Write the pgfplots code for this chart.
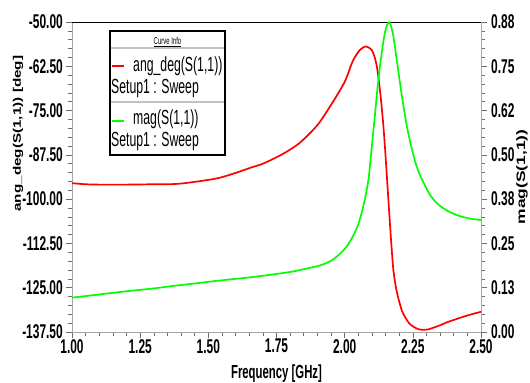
\documentclass[border=0pt]{standalone}
\usepackage{fontspec}
\setmainfont{Liberation Sans}
\newfontfamily\nf[FakeStretch=0.6]{Liberation Sans}
\usepackage{graphicx}
\usepackage{pgfplots}
\pgfplotsset{compat=1.18}
\definecolor{axgray}{RGB}{165,165,165}
\definecolor{tkgray}{RGB}{110,110,110}
\definecolor{sepgray}{RGB}{195,195,195}
\definecolor{myred}{RGB}{255,0,0}
\definecolor{mygreen}{RGB}{0,255,0}
\pgfplotsset{
  common/.style={
    at={(0,0)}, anchor=south west, scale only axis,
    width=409bp, height=310bp, xmin=1, xmax=2.5,
    tick align=outside, major tick length=6bp, minor tick length=4bp,
    tick style={tkgray, line width=0.6pt},
    ticklabel style={font=\nf\bfseries\fontsize{20}{20}\selectfont, inner sep=1bp},
    /pgf/number format/assume math mode=true,
    clip=false,
  }
}
\begin{document}
\begin{tikzpicture}
\useasboundingbox (-72bp,-51bp) rectangle (458bp,332bp);
\begin{axis}[common,
  ymin=-137.5, ymax=-50,
  axis x line*=bottom, axis y line*=left,
  axis line style={axgray, line width=0.8pt, -},
  xtick={1,1.25,...,2.5}, ytick={-137.5,-125,...,-50},
  minor x tick num=4, minor y tick num=4,
  /pgf/number format/fixed, /pgf/number format/fixed zerofill, /pgf/number format/precision=2,
  yticklabel style={xshift=-2bp},
  xlabel={\nf\bfseries\fontsize{19}{19}\selectfont Frequency [GHz]},
  every axis x label/.style={at={(axis description cs:0.5,-0.135)}, anchor=center},
  ylabel={\scalebox{1}[0.72]{\bfseries\fontsize{15.3}{15.3}\selectfont ang\_deg(S(1,1)) [deg]}},
  every axis y label/.style={at={(axis description cs:-0.132,0.64)}, rotate=90, anchor=center},
]
\addplot[myred, line width=1.7pt, smooth, tension=0.5] coordinates {
(1.00,-95.5) (1.05,-95.8) (1.10,-95.9) (1.20,-95.9) (1.30,-95.8) (1.35,-95.8)
(1.40,-95.6) (1.48,-94.8) (1.54,-94.0) (1.60,-92.6) (1.66,-91.0) (1.70,-90.0)
(1.76,-87.8) (1.80,-86.0) (1.84,-83.8) (1.90,-79.1) (1.95,-73.4) (2.00,-66.9)
(2.03,-61.0) (2.056,-57.9) (2.078,-56.9) (2.099,-57.9) (2.111,-60.2) (2.120,-63.5)
(2.130,-69.7) (2.140,-77.5) (2.148,-85.6) (2.156,-95.0) (2.164,-104.5) (2.171,-112.5)
(2.178,-119.5) (2.187,-124.5) (2.197,-128.0) (2.21,-131.5) (2.221,-133.2) (2.236,-135.0)
(2.252,-136.0) (2.27,-136.7) (2.289,-136.9) (2.31,-136.7) (2.325,-136.3) (2.35,-135.6)
(2.374,-134.8) (2.40,-134.1) (2.435,-133.2) (2.465,-132.5) (2.50,-131.8)
};
\end{axis}
\begin{axis}[common,
  ymin=0, ymax=0.875,
  axis x line*=top, axis y line*=right,
  x axis line style={black, line width=0.9pt, -},
  y axis line style={axgray, line width=0.8pt, -},
  xtick=\empty,
  ytick={0,0.125,0.25,0.375,0.5,0.625,0.75,0.875},
  yticklabels={0.00,0.13,0.25,0.38,0.50,0.62,0.75,0.88},
  minor y tick num=4,
  yticklabel style={xshift=3bp},
  ylabel={\scalebox{1}[0.7]{\bfseries\fontsize{17.5}{17.5}\selectfont mag(S(1,1))}},
  every axis y label/.style={at={(axis description cs:1.100,0.50)}, rotate=90, anchor=center},
]
\addplot[mygreen, line width=1.7pt, smooth, tension=0.5] coordinates {
(1.00,0.097) (1.10,0.106) (1.20,0.115) (1.30,0.123) (1.36,0.129) (1.45,0.137)
(1.55,0.146) (1.65,0.154) (1.714,0.160) (1.76,0.165) (1.812,0.171) (1.86,0.179)
(1.91,0.188) (1.95,0.201) (1.983,0.221) (2.01,0.244) (2.032,0.273) (2.05,0.304)
(2.062,0.336) (2.075,0.378) (2.087,0.429) (2.093,0.471) (2.102,0.542) (2.111,0.612)
(2.120,0.686) (2.130,0.754) (2.140,0.810) (2.148,0.847) (2.156,0.867) (2.164,0.874)
(2.171,0.861) (2.178,0.838) (2.187,0.790) (2.197,0.735) (2.209,0.671) (2.221,0.612)
(2.233,0.562) (2.246,0.518) (2.26,0.477) (2.276,0.443) (2.295,0.413) (2.313,0.387)
(2.335,0.366) (2.362,0.349) (2.39,0.337) (2.423,0.327) (2.46,0.320) (2.50,0.316)
};
\end{axis}
% legend box
\draw[black, line width=1.2bp, fill=white] (38bp,177bp) rectangle (153bp,301bp);
\draw[sepgray, line width=1.8bp] (38.6bp,283.7bp) -- (152.4bp,283.7bp);
\draw[sepgray, line width=1.8bp] (38.6bp,230bp) -- (152.4bp,230bp);
\node[inner sep=0, anchor=center] at (95.5bp,290bp) {\nf\fontsize{10}{10}\selectfont \underline{Curve Info}};
\node[inner sep=0] at (46bp,266bp) {\textcolor{myred}{\rule{12bp}{1.3bp}}};
\node[inner sep=0, anchor=west] at (61bp,266bp) {\nf\fontsize{20.5}{20}\selectfont ang\_deg(S(1,1))};
\node[inner sep=0, anchor=west] at (39bp,244bp) {\nf\fontsize{20.5}{20}\selectfont Setup1 : Sweep};
\node[inner sep=0] at (46bp,211bp) {\textcolor{mygreen}{\rule{12bp}{1.3bp}}};
\node[inner sep=0, anchor=west] at (61bp,213bp) {\nf\fontsize{20.5}{20}\selectfont mag(S(1,1))};
\node[inner sep=0, anchor=west] at (39bp,191bp) {\nf\fontsize{20.5}{20}\selectfont Setup1 : Sweep};
\end{tikzpicture}
\end{document}
